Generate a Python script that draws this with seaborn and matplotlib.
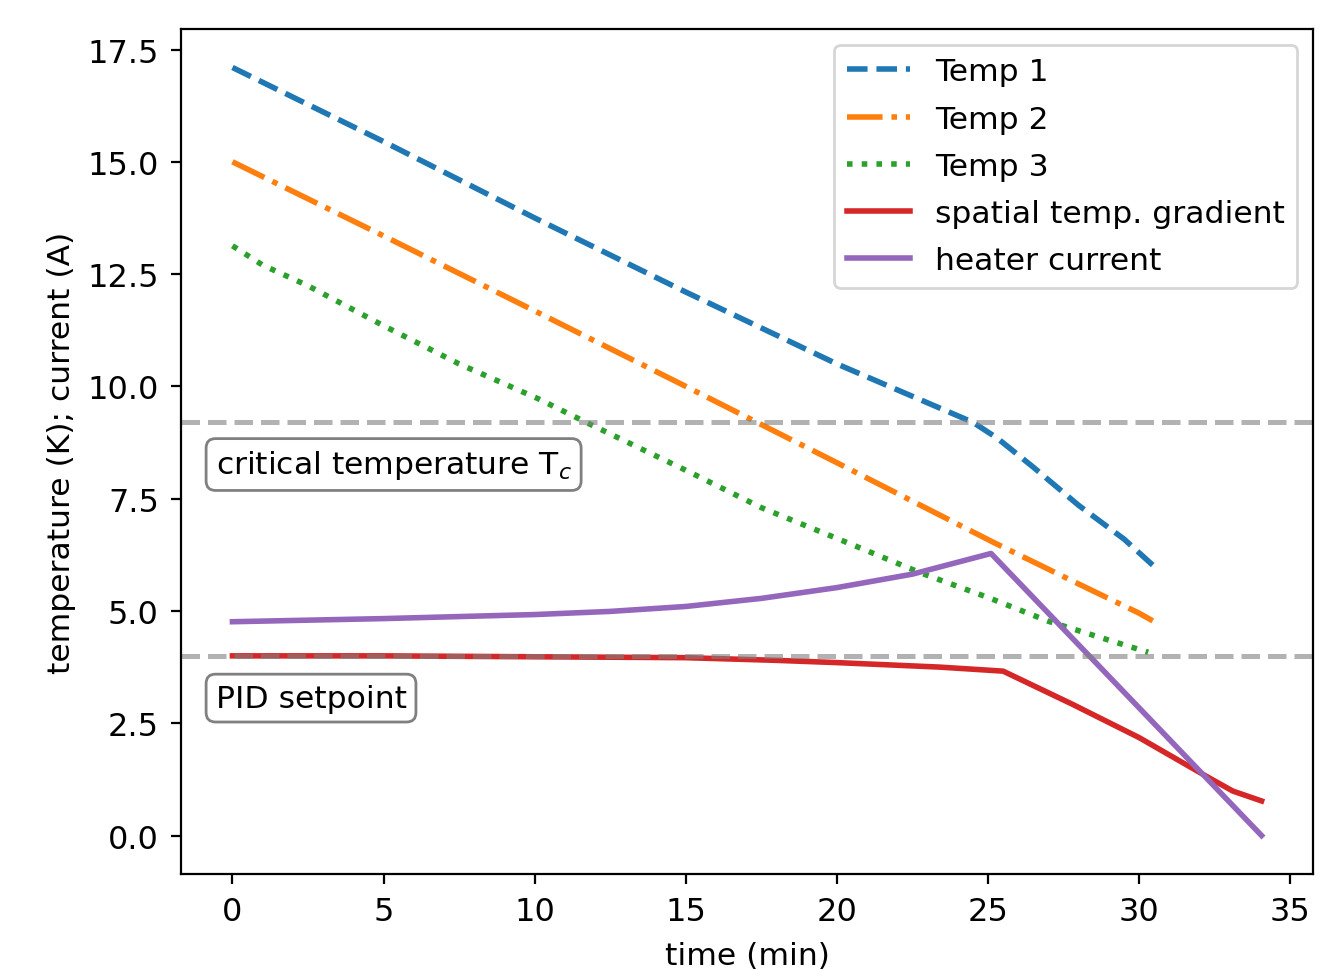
import numpy as np
import pandas as pd
import seaborn as sns
import matplotlib.pyplot as plt

t_temp1 = [0, 5, 10, 15, 20, 24.5, 25.3, 26.5, 28, 29.5, 30.45]
temp1 = [17.1, 15.45, 13.75, 12.1, 10.5, 9.2, 8.85, 8.2, 7.35, 6.6, 6.02]

t_temp2 = [0, 5, 10, 15, 20, 25.2, 28, 30, 30.45]
temp2 = [15.0, 13.35, 11.68, 10.0, 8.3, 6.52, 5.6, 4.95, 4.78]

t_temp3 = [0, 1, 2.5, 5, 7.5, 10.1, 11.7, 15.1, 17.5, 20.2, 22.8, 25, 27, 29, 30.3]
temp3 = [13.13, 12.7, 12.24, 11.35, 10.5, 9.73, 9.2, 8.1, 7.3, 6.56, 5.84, 5.3, 4.77, 4.35, 4.08]

t_grad = [0, 5, 10, 15, 18, 20, 23.4, 25.5, 27.8, 30, 32.3, 33.1, 34.05]
grad = [4.0, 4.0, 3.98, 3.96, 3.9, 3.85, 3.75, 3.66, 2.92, 2.18, 1.29, 0.99, 0.77]

t_heater = [0, 5, 10, 12.5, 15, 17.5, 20, 22.5, 25.1, 34.05]
heater = [4.76, 4.83, 4.92, 4.99, 5.1, 5.28, 5.52, 5.82, 6.28, 0.0]

T_c = 9.2
setpoint = 4.0

fs = 11.3

fig, ax = plt.subplots(figsize=(6.62, 4.85), dpi=200)
fig.subplots_adjust(left=0.1367, right=0.9917, top=0.969, bottom=0.098)

sns.lineplot(x=t_temp1, y=temp1, ax=ax, color='C0', linestyle='--', lw=2, label='Temp 1')
sns.lineplot(x=t_temp2, y=temp2, ax=ax, color='C1', linestyle='-.', lw=2, label='Temp 2')
sns.lineplot(x=t_temp3, y=temp3, ax=ax, color='C2', linestyle=':', lw=2, label='Temp 3')
sns.lineplot(x=t_grad, y=grad, ax=ax, color='C3', lw=2, label='spatial temp. gradient')
sns.lineplot(x=t_heater, y=heater, ax=ax, color='C4', lw=2, label='heater current')

ax.axhline(T_c, color='gray', alpha=0.6, ls='--', lw=1.8)
ax.axhline(setpoint, color='gray', alpha=0.6, ls='--', lw=1.8)

box = dict(boxstyle='round', facecolor='white', edgecolor='gray')
ax.text(-0.56, 8.26, 'critical temperature T$_c$', fontsize=fs, va='center', bbox=box)
ax.text(-0.56, 3.06, 'PID setpoint', fontsize=fs, va='center', bbox=box)

ax.set_xticks(range(0, 36, 5))
ax.set_yticks(np.arange(0, 17.6, 2.5))
ax.tick_params(labelsize=11.5, pad=4.5)
ax.set_xlabel('time (min)', fontsize=fs, labelpad=5)
ax.set_ylabel('temperature (K); current (A)', fontsize=fs)
ax.legend(loc='upper right', fontsize=fs, labelspacing=0.58)

plt.savefig('out.png', dpi=200)
